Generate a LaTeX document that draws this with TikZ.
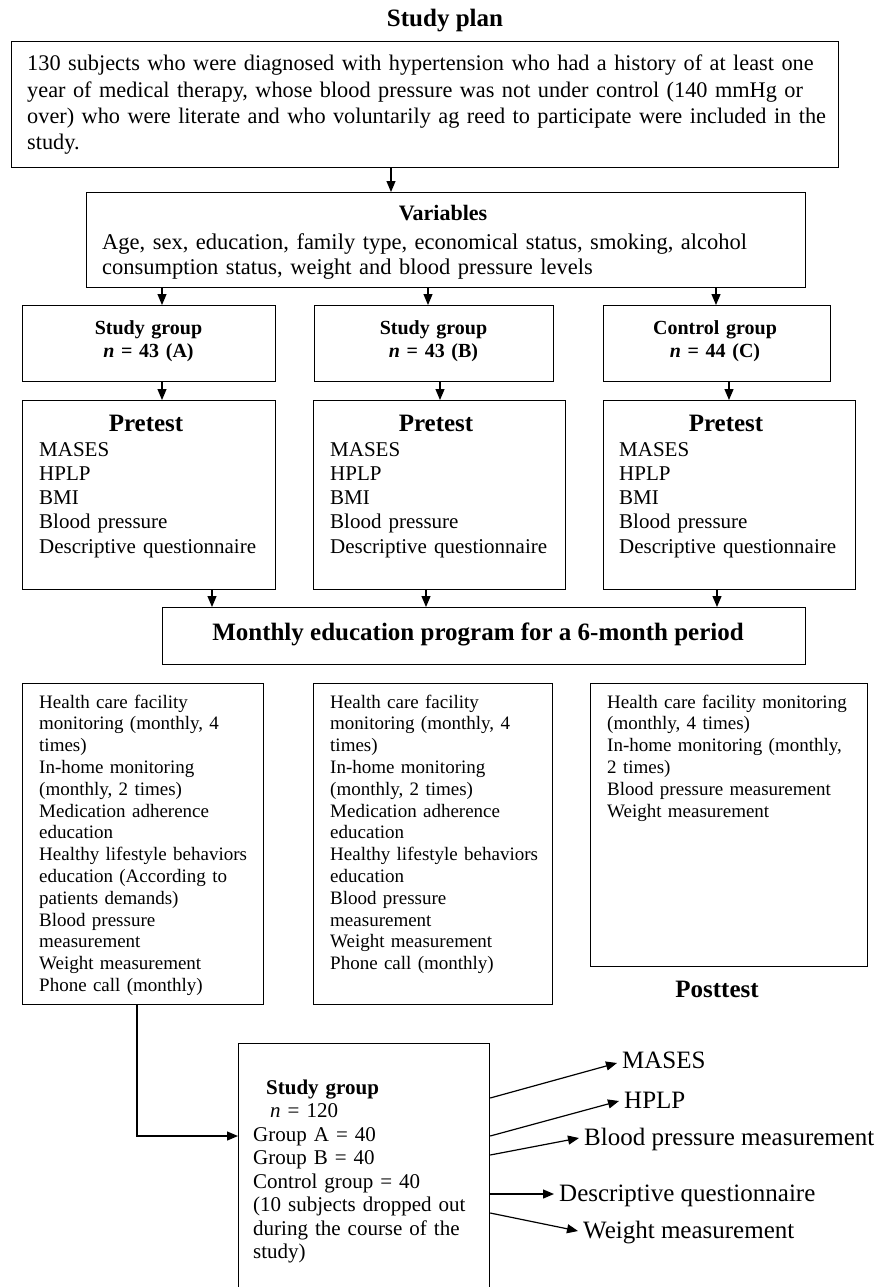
\documentclass[tikz,border=0pt]{standalone}
\usepackage{fontspec}
\setmainfont{Liberation Serif}
\usetikzlibrary{arrows.meta}
\newcommand{\setfs}[2]{\fontsize{#1pt}{#2pt}\selectfont}
\begin{document}
\begin{tikzpicture}[x=1pt,y=-1pt,
  bx/.style={draw, line width=1.2pt, inner sep=0pt, anchor=north west},
  arr/.style={line width=1.2pt, -{Triangle[length=11pt,width=9pt]}},
  txt/.style={anchor=base west, inner sep=0pt, align=left},
  ctr/.style={anchor=base, inner sep=0pt, align=center},
  lbl/.style={anchor=base west, inner xsep=5pt, inner ysep=0pt, font=\setfs{25}{30}}]
\useasboundingbox (0,0) rectangle (876,1287);

% title
\node[ctr, font=\setfs{25}{30}\bfseries] (title) at (445,27) {Study plan};

% top box
\node[bx, minimum width=827pt, minimum height=126pt] (top) at (11,41) {};
\node[txt, text width=850pt, font=\setfs{22.3}{26.3}] (toptxt) at (27,71)
  {130 subjects who were diagnosed with hypertension who had a history of at least one\\
   year of medical therapy, whose blood pressure was not under control (140 mmHg or\\
   over) who were literate and who voluntarily ag reed to participate were included in the\\
   study.};

% variables
\node[bx, minimum width=719pt, minimum height=95pt] (var) at (86,192) {};
\node[ctr, font=\setfs{22}{26}\bfseries] (vartitle) at (443,220) {Variables};
\node[txt, text width=720pt, font=\setfs{22.5}{25}] (vartxt) at (102,249)
  {Age, sex, education, family type, economical status, smoking, alcohol\\
   consumption status, weight and blood pressure levels};

% group boxes
\node[bx, minimum width=253pt, minimum height=76pt] (gA) at (22,305) {};
\node[bx, minimum width=239pt, minimum height=76pt] (gB) at (314,305) {};
\node[bx, minimum width=227pt, minimum height=76pt] (gC) at (603,305) {};
\node[ctr, text width=250pt, font=\setfs{20}{23}\bfseries] (gAt) at (148.5,334) {Study group\\ \textit{n} = 43 (A)};
\node[ctr, text width=239pt, font=\setfs{20}{23}\bfseries] (gBt) at (433.5,334) {Study group\\ \textit{n} = 43 (B)};
\node[ctr, text width=227pt, font=\setfs{20}{23}\bfseries] (gCt) at (715,334) {Control group\\ \textit{n} = 44 (C)};

% pretest boxes
\node[bx, minimum width=253pt, minimum height=189pt] (pA) at (22,400) {};
\node[bx, minimum width=252pt, minimum height=189pt] (pB) at (313,400) {};
\node[bx, minimum width=252pt, minimum height=189pt] (pC) at (603,400) {};
\node[ctr, font=\setfs{25}{30}\bfseries] (pAh) at (146,431) {Pretest};
\node[ctr, font=\setfs{25}{30}\bfseries] (pBh) at (436,431) {Pretest};
\node[ctr, font=\setfs{25}{30}\bfseries] (pCh) at (726,431) {Pretest};
\node[txt, text width=240pt, font=\setfs{21}{24.3}] (pAt) at (39,456)
  {MASES\\ HPLP\\ BMI\\ Blood pressure\\ Descriptive questionnaire};
\node[txt, text width=240pt, font=\setfs{21}{24.3}] (pBt) at (330,456)
  {MASES\\ HPLP\\ BMI\\ Blood pressure\\ Descriptive questionnaire};
\node[txt, text width=240pt, font=\setfs{21}{24.3}] (pCt) at (619,456)
  {MASES\\ HPLP\\ BMI\\ Blood pressure\\ Descriptive questionnaire};

% monthly
\node[bx, minimum width=643pt, minimum height=57pt] (mon) at (162,607) {};
\node[ctr, font=\setfs{25}{30}\bfseries] (montxt) at (478,640) {Monthly education program for a 6-month period};

% lower boxes
\node[bx, minimum width=241pt, minimum height=321pt] (lA) at (22,683) {};
\node[bx, minimum width=239pt, minimum height=321pt] (lB) at (313,683) {};
\node[bx, minimum width=277pt, minimum height=283pt] (lC) at (590,683) {};
\node[txt, text width=230pt, font=\setfs{19}{21.8}] (lAt) at (39,708)
  {Health care facility\\ monitoring (monthly, 4\\ times)\\ In-home monitoring\\ (monthly, 2 times)\\
   Medication adherence\\ education\\ Healthy lifestyle behaviors\\ education (According to\\
   patients demands)\\ Blood pressure\\ measurement\\ Weight measurement\\ Phone call (monthly)};
\node[txt, text width=230pt, font=\setfs{19}{21.8}] (lBt) at (330,708)
  {Health care facility\\ monitoring (monthly, 4\\ times)\\ In-home monitoring\\ (monthly, 2 times)\\
   Medication adherence\\ education\\ Healthy lifestyle behaviors\\ education\\
   Blood pressure\\ measurement\\ Weight measurement\\ Phone call (monthly)};
\node[txt, text width=270pt, font=\setfs{19}{21.8}] (lCt) at (607,708)
  {Health care facility monitoring\\ (monthly, 4 times)\\ In-home monitoring (monthly,\\ 2 times)\\
   Blood pressure measurement\\ Weight measurement};
\node[ctr, font=\setfs{25}{30}\bfseries] (post) at (717,997) {Posttest};

% study group box (open at the bottom edge of the picture)
\node[bx, minimum width=251pt, minimum height=300pt] (sg) at (238,1043) {};
\node[txt, text width=240pt, font=\setfs{21}{23.5}] (sgt) at (253,1094)
  {\hspace*{13pt}\textbf{Study group}\\ \hspace*{17pt}\textit{n} = 120\\ Group A = 40\\ Group B = 40\\
   Control group = 40\\ (10 subjects dropped out\\ during the course of the\\ study)};

% posttest labels
\node[lbl] (m1) at (617,1068) {MASES};
\node[lbl] (m2) at (619,1108) {HPLP};
\node[lbl] (m3) at (579,1145) {Blood pressure measurement};
\node[lbl] (m4) at (554,1201) {Descriptive questionnaire};
\node[lbl] (m5) at (578,1238) {Weight measurement};

% helper coordinates
\coordinate (x1) at (391,0);
\coordinate (x2) at (162,0);
\coordinate (x3) at (428,0);
\coordinate (x4) at (716,0);
\coordinate (x5) at (162,0);
\coordinate (x6) at (440,0);
\coordinate (x7) at (729,0);
\coordinate (x8) at (212,0);
\coordinate (x9) at (426,0);
\coordinate (x10) at (717,0);
\coordinate (xl) at (137,0);
\coordinate (yl) at (0,1136);
\coordinate (y1) at (0,1098);
\coordinate (y2) at (0,1136);
\coordinate (y3) at (0,1155);
\coordinate (y4) at (0,1194);
\coordinate (y5) at (0,1213);

% connectors
\draw[arr] (top.south -| x1) -- (var.north -| x1);
\draw[arr] (var.south -| x2) -- (gA.north -| x2);
\draw[arr] (var.south -| x3) -- (gB.north -| x3);
\draw[arr] (var.south -| x4) -- (gC.north -| x4);
\draw[arr] (gA.south -| x5) -- (pA.north -| x5);
\draw[arr] (gB.south -| x6) -- (pB.north -| x6);
\draw[arr] (gC.south -| x7) -- (pC.north -| x7);
\draw[arr] (pA.south -| x8) -- (mon.north -| x8);
\draw[arr] (pB.south -| x9) -- (mon.north -| x9);
\draw[arr] (pC.south -| x10) -- (mon.north -| x10);
\draw[arr] (lA.south -| xl) |- (sg.west |- yl);
\draw[arr] (sg.east |- y1) -- ([yshift=5pt]m1.base west);
\draw[arr] (sg.east |- y2) -- ([yshift=7pt]m2.base west);
\draw[arr] (sg.east |- y3) -- ([yshift=7pt]m3.base west);
\draw[arr] (sg.east |- y4) -- ([yshift=7pt]m4.base west);
\draw[arr] (sg.east |- y5) -- ([yshift=7pt]m5.base west);
\end{tikzpicture}
\end{document}
